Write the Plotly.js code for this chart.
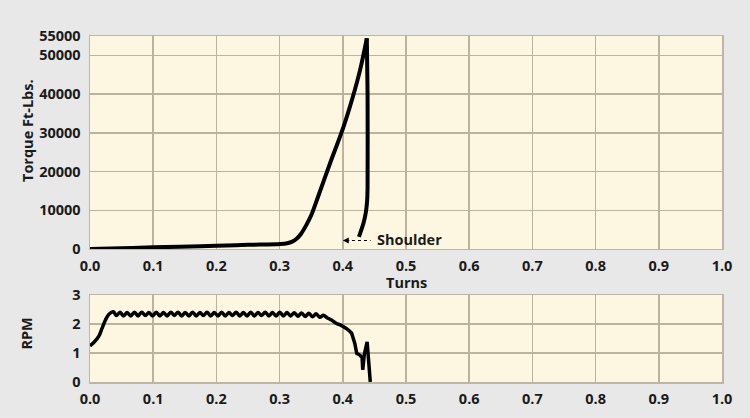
<!DOCTYPE html>
<html>
<head>
<meta charset="utf-8">
<script src="https://cdn.plot.ly/plotly-3.0.1.min.js"></script>
<style>html,body{margin:0;padding:0;background:#e8e8e8;}#chart{width:750px;height:418px;}</style>
</head>
<body>
<div id="chart"></div>
<script>
// Torque vs turns
const torqueTurns = [0.000, 0.050, 0.100, 0.143, 0.200, 0.250, 0.301, 0.312, 0.320, 0.327, 0.334, 0.342, 0.350, 0.360, 0.380, 0.400, 0.415, 0.427, 0.438, 0.4392, 0.4392, 0.4385, 0.4365, 0.4326, 0.4255];
const torqueValues = [0, 200, 420, 600, 850, 1080, 1300, 1500, 1900, 2650, 3950, 6100, 8700, 13100, 22200, 31000, 38800, 46000, 54400, 40000, 16000, 12500, 9500, 6600, 3150];

// RPM vs turns
const rpmTurns = [0.000, 0.006, 0.014, 0.019, 0.0245, 0.030, 0.037, 0.0420, 0.0475, 0.0530, 0.0588, 0.0645, 0.0703, 0.0760, 0.0818, 0.0875, 0.0933, 0.0990, 0.1048, 0.1105, 0.1163, 0.1220, 0.1278, 0.1335, 0.1393, 0.1450, 0.1508, 0.1565, 0.1623, 0.1680, 0.1738, 0.1795, 0.1853, 0.1910, 0.1968, 0.2025, 0.2083, 0.2140, 0.2198, 0.2255, 0.2313, 0.2370, 0.2428, 0.2485, 0.2543, 0.2600, 0.2658, 0.2715, 0.2773, 0.2830, 0.2888, 0.2945, 0.3003, 0.3060, 0.3118, 0.3175, 0.3233, 0.3290, 0.3348, 0.3405, 0.3463, 0.3520, 0.3578, 0.3635, 0.3693, 0.3750, 0.3820, 0.3900, 0.3960, 0.4030, 0.4090, 0.4140, 0.4190, 0.4220, 0.4270, 0.4305, 0.4316, 0.4340, 0.4385, 0.4435];
const rpmValues = [1.25, 1.36, 1.58, 1.85, 2.14, 2.34, 2.42, 2.29, 2.41, 2.28, 2.40, 2.28, 2.41, 2.28, 2.41, 2.29, 2.40, 2.28, 2.41, 2.28, 2.40, 2.28, 2.41, 2.29, 2.41, 2.28, 2.40, 2.28, 2.41, 2.28, 2.40, 2.29, 2.41, 2.28, 2.40, 2.28, 2.41, 2.28, 2.40, 2.29, 2.41, 2.28, 2.40, 2.28, 2.41, 2.28, 2.40, 2.29, 2.41, 2.28, 2.40, 2.28, 2.41, 2.28, 2.40, 2.28, 2.39, 2.27, 2.38, 2.26, 2.37, 2.25, 2.35, 2.23, 2.30, 2.22, 2.14, 2.02, 1.97, 1.88, 1.79, 1.68, 1.33, 0.99, 0.93, 0.84, 0.42, 0.95, 1.38, 0.0];

const xTicks = [0, 0.1, 0.2, 0.3, 0.4, 0.5, 0.6, 0.7, 0.8, 0.9, 1.0];
const xTickLabels = ['0.0','0.1','0.2','0.3','0.4','0.5','0.6','0.7','0.8','0.9','1.0'];
const torqueTicks = [0, 10000, 20000, 30000, 40000, 50000, 55000];
const rpmTicks = [0, 1, 2, 3];

const FONT = '"Open Sans", Lato, sans-serif';
const INK = '#1a1a1a';
const GRID = '#bbb2a0';
const TF = {family: FONT, size: 14.5, color: INK, weight: 700};

// split curves where they turn sharply
const peakIdx = torqueValues.indexOf(Math.max(...torqueValues));
const splitIdx = rpmTurns.indexOf(0.4090);

const traces = [
  {x: torqueTurns.slice(0, peakIdx + 1), y: torqueValues.slice(0, peakIdx + 1), type: 'scatter', mode: 'lines',
   xaxis: 'x', yaxis: 'y', line: {color: '#000', width: 4, shape: 'spline', smoothing: 1}, hoverinfo: 'skip'},
  {x: torqueTurns.slice(peakIdx), y: torqueValues.slice(peakIdx), type: 'scatter', mode: 'lines',
   xaxis: 'x', yaxis: 'y', line: {color: '#000', width: 4, shape: 'spline', smoothing: 0.6}, hoverinfo: 'skip'},
  {x: rpmTurns.slice(0, splitIdx + 1), y: rpmValues.slice(0, splitIdx + 1), type: 'scatter', mode: 'lines',
   xaxis: 'x2', yaxis: 'y2', line: {color: '#000', width: 3.5, shape: 'spline', smoothing: 1}, hoverinfo: 'skip'},
  {x: rpmTurns.slice(splitIdx), y: rpmValues.slice(splitIdx), type: 'scatter', mode: 'lines',
   xaxis: 'x2', yaxis: 'y2', line: {color: '#000', width: 3.5}, hoverinfo: 'skip'}
];

const xCommon = {
  range: [0, 1], tickvals: xTicks, ticktext: xTickLabels, showgrid: true, gridcolor: GRID, gridwidth: 1.5,
  zeroline: false, showline: true, linecolor: '#bdb6a8', linewidth: 1.5, mirror: true, ticks: '',
  tickfont: TF, ticklabelstandoff: 3, fixedrange: true
};
const yCommon = {
  showgrid: true, gridcolor: GRID, gridwidth: 1.5, zeroline: false, showline: true, linecolor: '#bdb6a8',
  linewidth: 1.5, mirror: true, ticks: '', tickfont: TF, ticklabelstandoff: 5
};

const layout = {
  width: 750, height: 418,
  paper_bgcolor: '#e8e8e8', plot_bgcolor: '#fdf6e1',
  showlegend: false,
  margin: {l: 89.5, r: 27.5, t: 36, b: 36},
  xaxis: Object.assign({}, xCommon, {anchor: 'y'}),
  yaxis: Object.assign({}, yCommon, {domain: [0.3844, 1], range: [0, 55000], tickvals: torqueTicks,
    ticktext: torqueTicks.map(String), anchor: 'x'}),
  xaxis2: Object.assign({}, xCommon, {anchor: 'y2'}),
  yaxis2: Object.assign({}, yCommon, {domain: [0, 0.2514], range: [0, 3], tickvals: rpmTicks,
    ticktext: rpmTicks.map(String), anchor: 'x2'}),
  shapes: [
    {type: 'line', xref: 'x', yref: 'y', x0: 0.405, x1: 0.444, y0: 2200, y1: 2200,
     line: {color: '#000', width: 1.2, dash: 'dot'}}
  ],
  annotations: [
    {xref: 'x', yref: 'y', x: 0.4515, y: 2400, text: 'Shoulder', showarrow: false, xanchor: 'left', yanchor: 'middle',
     font: TF},
    {xref: 'x', yref: 'y', x: 0.4, y: 2200, ax: 8, ay: 0, text: '', showarrow: true, arrowhead: 2, arrowsize: 1,
     arrowwidth: 1.2, arrowcolor: '#000'},
    {xref: 'paper', yref: 'paper', x: 0.5, y: 0.3844, yshift: -34, text: 'Turns', showarrow: false,
     xanchor: 'center', yanchor: 'middle', font: TF},
    {xref: 'paper', yref: 'paper', x: 0, xshift: -63, y: 0.7254, text: 'Torque Ft-Lbs.', showarrow: false,
     textangle: -90, xanchor: 'center', yanchor: 'middle', font: TF},
    {xref: 'paper', yref: 'paper', x: 0, xshift: -63, y: 0.140, text: 'RPM', showarrow: false,
     textangle: -90, xanchor: 'center', yanchor: 'middle', font: TF}
  ]
};

Plotly.newPlot('chart', traces, layout, {displayModeBar: false, staticPlot: true});
</script>
</body>
</html>
